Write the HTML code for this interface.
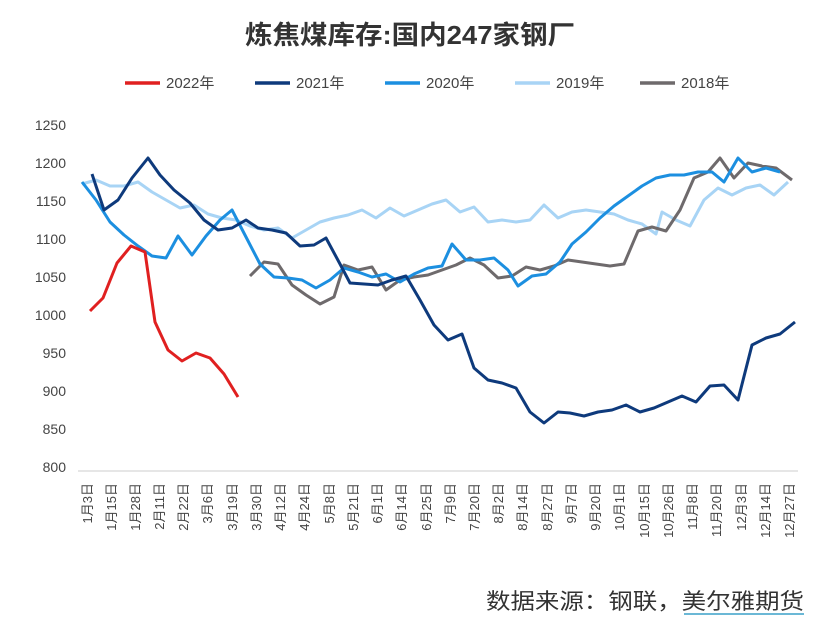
<!DOCTYPE html>
<html><head><meta charset="utf-8"><style>
body{margin:0;background:#fff;}
svg text{font-family:"Liberation Sans","Noto Sans CJK SC",sans-serif;}
</style></head><body>
<svg width="818" height="634" viewBox="0 0 818 634" xmlns="http://www.w3.org/2000/svg">
<rect width="818" height="634" fill="#fff"/>
<text x="245" y="44" font-size="26" textLength="330" lengthAdjust="spacingAndGlyphs" fill="#333" font-weight="bold">炼焦煤库存:国内247家钢厂</text>
<g font-size="15" fill="#444">
<line x1="125" y1="83" x2="160" y2="83" stroke="#e02020" stroke-width="3.5"/><text x="166" y="88">2022年</text>
<line x1="255" y1="83" x2="290" y2="83" stroke="#0e3a7c" stroke-width="3.5"/><text x="296" y="88">2021年</text>
<line x1="385" y1="83" x2="420" y2="83" stroke="#1c8fe0" stroke-width="3.5"/><text x="426" y="88">2020年</text>
<line x1="515" y1="83" x2="550" y2="83" stroke="#a8d4f5" stroke-width="3.5"/><text x="556" y="88">2019年</text>
<line x1="640" y1="83" x2="675" y2="83" stroke="#6e6a6c" stroke-width="3.5"/><text x="681" y="88">2018年</text>
</g>
<g font-size="14" fill="#444" text-anchor="end">
<text x="66" y="130">1250</text><text x="66" y="168">1200</text><text x="66" y="206">1150</text><text x="66" y="244">1100</text><text x="66" y="282">1050</text><text x="66" y="320">1000</text><text x="66" y="358">950</text><text x="66" y="396">900</text><text x="66" y="434">850</text><text x="66" y="472">800</text>
</g>
<line x1="78" y1="471" x2="798" y2="471" stroke="#ccc"/>
<g font-size="13" fill="#444" text-anchor="end">
<text transform="translate(92,483) rotate(-90)">1月3日</text>
<text transform="translate(116,483) rotate(-90)">1月15日</text>
<text transform="translate(140,483) rotate(-90)">1月28日</text>
<text transform="translate(164,483) rotate(-90)">2月11日</text>
<text transform="translate(188,483) rotate(-90)">2月22日</text>
<text transform="translate(212,483) rotate(-90)">3月6日</text>
<text transform="translate(237,483) rotate(-90)">3月19日</text>
<text transform="translate(261,483) rotate(-90)">3月30日</text>
<text transform="translate(285,483) rotate(-90)">4月12日</text>
<text transform="translate(309,483) rotate(-90)">4月24日</text>
<text transform="translate(334,483) rotate(-90)">5月8日</text>
<text transform="translate(358,483) rotate(-90)">5月21日</text>
<text transform="translate(382,483) rotate(-90)">6月1日</text>
<text transform="translate(406,483) rotate(-90)">6月14日</text>
<text transform="translate(431,483) rotate(-90)">6月25日</text>
<text transform="translate(455,483) rotate(-90)">7月9日</text>
<text transform="translate(479,483) rotate(-90)">7月20日</text>
<text transform="translate(503,483) rotate(-90)">8月2日</text>
<text transform="translate(527,483) rotate(-90)">8月14日</text>
<text transform="translate(552,483) rotate(-90)">8月27日</text>
<text transform="translate(576,483) rotate(-90)">9月7日</text>
<text transform="translate(600,483) rotate(-90)">9月20日</text>
<text transform="translate(624,483) rotate(-90)">10月1日</text>
<text transform="translate(649,483) rotate(-90)">10月15日</text>
<text transform="translate(673,483) rotate(-90)">10月26日</text>
<text transform="translate(697,483) rotate(-90)">11月8日</text>
<text transform="translate(721,483) rotate(-90)">11月20日</text>
<text transform="translate(746,483) rotate(-90)">12月3日</text>
<text transform="translate(770,483) rotate(-90)">12月14日</text>
<text transform="translate(794,483) rotate(-90)">12月27日</text>
</g>
<g fill="none" stroke-width="3" stroke-linejoin="round">
<polyline stroke="#a8d4f5" points="82,184 96,180 110,186 124,186 138,182 152,192 166,200 180,208 194,205 208,214 222,218 236,220 250,226 264,230 278,228 292,238 306,230 320,222 334,218 348,215 362,210 376,218 390,208 404,216 418,210 432,204 446,200 460,212 474,207 488,222 502,220 516,222 530,220 544,205 558,218 572,212 586,210 600,212 614,214 628,220 642,224 656,234 662,212 676,220 690,226 704,200 718,188 732,195 746,188 760,185 774,195 788,182"/>
<polyline stroke="#6e6a6c" points="250,276 264,262 278,264 292,285 306,295 320,304 334,297 344,265 358,270 372,267 386,290 400,280 414,277 428,275 442,270 456,265 470,258 484,265 498,278 512,276 526,267 540,270 554,266 568,260 582,262 596,264 610,266 624,264 638,231 652,227 666,231 680,210 694,178 708,172 720,158 734,178 748,163 762,166 776,168 792,180"/>
<polyline stroke="#1c8fe0" points="82,182 96,200 110,222 124,235 138,246 152,256 166,258 178,236 192,255 206,236 220,220 232,210 246,237 260,264 274,277 288,278 302,280 316,288 330,280 344,268 358,272 372,277 386,274 400,282 414,274 428,268 442,266 452,244 466,260 480,260 494,258 508,270 518,286 532,276 546,274 560,262 572,244 586,232 600,218 614,206 628,196 642,186 656,178 670,175 684,175 698,172 712,172 724,182 738,158 752,172 766,168 780,172"/>
<polyline stroke="#0e3a7c" points="92,174 104,210 118,200 132,178 148,158 160,175 174,190 190,203 204,220 218,230 232,228 246,220 258,228 272,230 286,233 300,246 314,245 326,238 340,264 350,283 364,284 378,285 392,280 406,276 420,300 434,325 448,340 462,334 474,368 488,380 502,383 516,388 530,412 544,423 558,412 570,413 584,416 598,412 612,410 626,405 640,412 654,408 668,402 682,396 696,402 710,386 724,385 738,400 752,345 766,338 780,334 795,322"/>
<polyline stroke="#e02020" points="90,311 103,298 117,263 131,246 145,252 155,322 168,350 182,361 196,353 210,358 224,374 238,397"/>
</g>
<text x="486" y="609" font-size="22" textLength="318" lengthAdjust="spacingAndGlyphs" fill="#333">数据来源：钢联，美尔雅期货</text>
<line x1="684" y1="614" x2="804" y2="614" stroke="#3aa0c8" stroke-width="1.5"/>
</svg>
</body></html>
